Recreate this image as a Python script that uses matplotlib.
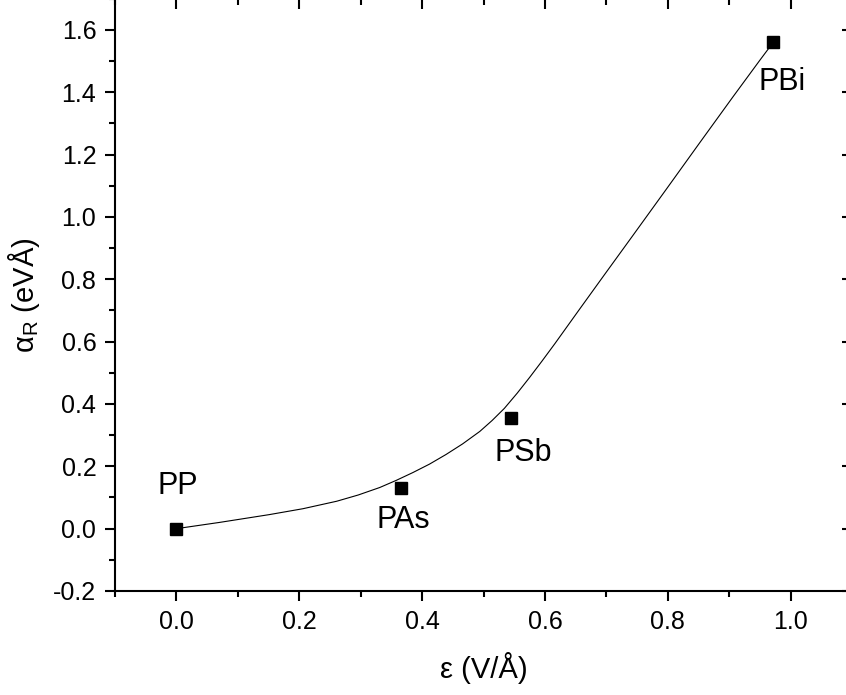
import numpy as np
import matplotlib
matplotlib.use('Agg')
from matplotlib import pyplot as plt
from matplotlib.ticker import MultipleLocator

plt.rcParams['font.family'] = ['Liberation Sans', 'DejaVu Sans']
plt.rcParams['mathtext.fontset'] = 'custom'
plt.rcParams['mathtext.rm'] = 'Liberation Sans'

# data points
names = ['PP', 'PAs', 'PSb', 'PBi']
eps = [0.0, 0.366, 0.544, 0.972]
alpha = [0.0, 0.131, 0.356, 1.561]

# fitted curve
curve_eps = [0.0, 0.070, 0.151, 0.206, 0.261, 0.296, 0.331, 0.358, 0.385,
             0.412, 0.439, 0.466, 0.494, 0.514, 0.534, 0.555, 0.575, 0.595,
             0.616, 0.636, 0.656, 0.697, 0.743, 0.798, 0.852, 0.906, 0.950, 0.972]
curve_alpha = [0.0, 0.020, 0.045, 0.064, 0.088, 0.108, 0.132, 0.155, 0.180,
               0.207, 0.238, 0.272, 0.312, 0.347, 0.386, 0.435, 0.485, 0.537,
               0.593, 0.648, 0.703, 0.815, 0.940, 1.090, 1.238, 1.385, 1.503, 1.561]

# label offsets in pixels (dx, dy)
offsets = [(1, 43), (2, -32), (13, -35), (9, -40)]

W, H = 846, 695
fig = plt.figure(figsize=(W / 100, H / 100), dpi=100)
ax = fig.add_axes([115 / W, (H - 591) / H, (852 - 115) / W, (591 + 1.2) / H])

ax.plot(curve_eps, curve_alpha, '-', color='black', lw=0.8)
ax.plot(eps, alpha, 's', color='black', ms=8.5, zorder=3)

for name, x, y, off in zip(names, eps, alpha, offsets):
    ax.annotate(name, (x, y), xytext=off, textcoords='offset pixels',
                ha='center', va='center', fontsize=22)

ax.set_xlim(-0.1, 1.1)
ax.set_ylim(-0.2, 1.7)
ax.xaxis.set_major_locator(MultipleLocator(0.2))
ax.xaxis.set_minor_locator(MultipleLocator(0.1))
ax.yaxis.set_major_locator(MultipleLocator(0.2))
ax.yaxis.set_minor_locator(MultipleLocator(0.1))
ax.xaxis.set_major_formatter(plt.FuncFormatter(lambda v, p: '%.1f' % v))
ax.yaxis.set_major_formatter(plt.FuncFormatter(lambda v, p: '%.1f' % v))

for s in ax.spines.values():
    s.set_linewidth(1.5)

ax.tick_params(which='both', bottom=True, left=True, top=False, right=False,
               direction='out', width=1.5, labelsize=18)
ax.tick_params(which='major', length=7.5, pad=6)
ax.tick_params(which='minor', length=4)

# inward ticks on top and right
tx = ax.secondary_xaxis('top')
tx.xaxis.set_major_locator(MultipleLocator(0.2))
tx.xaxis.set_minor_locator(MultipleLocator(0.1))
tx.tick_params(which='both', direction='in', width=1.5, labeltop=False)
tx.tick_params(which='major', length=7.5)
tx.tick_params(which='minor', length=4)
ty = ax.secondary_yaxis('right')
ty.yaxis.set_major_locator(MultipleLocator(0.2))
ty.yaxis.set_minor_locator(MultipleLocator(0.1))
ty.tick_params(which='both', direction='in', width=1.5, labelright=False)
ty.tick_params(which='major', length=7.5)
ty.tick_params(which='minor', length=4)

ax.set_xlabel('ε (V/Å)', fontsize=21, labelpad=13)
ax.set_ylabel(r'$\mathregular{α_R}$ (eVÅ)', fontsize=21, labelpad=8)

fig.savefig('out.png', dpi=100)
